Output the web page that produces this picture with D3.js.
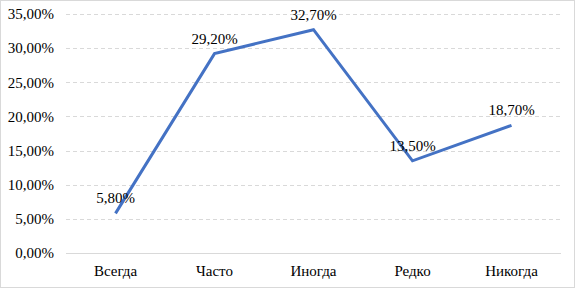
<!DOCTYPE html>
<html>
<head>
<meta charset="utf-8">
<script src="https://cdn.jsdelivr.net/npm/d3@7"></script>
</head>
<body style="margin:0">
<script>
// data
var categories = ["Всегда", "Часто", "Иногда", "Редко", "Никогда"];
var values = [5.8, 29.2, 32.7, 13.5, 18.7];
var yTicks = [0, 5, 10, 15, 20, 25, 30, 35];

var W = 575, H = 288;
var margin = {top: 14, right: 14, bottom: 35, left: 66};
var width = W - margin.left - margin.right,
    height = H - margin.top - margin.bottom;
var FONT = "'Liberation Serif', 'Tinos', serif";

var fmt = function(v) { return d3.format(".2f")(v).replace(".", ",") + "%"; };

var svg = d3.select("body").append("svg")
    .attr("width", W)
    .attr("height", H)
    .style("display", "block")
    .attr("font-family", FONT);

// outer border
svg.append("rect")
    .attr("x", 0.5).attr("y", 0.5)
    .attr("width", W - 1).attr("height", H - 1)
    .attr("fill", "#fff")
    .attr("stroke", "#d9d9d9");

var g = svg.append("g")
    .attr("transform", "translate(" + margin.left + "," + margin.top + ")");

var x = d3.scaleBand()
    .domain(categories)
    .range([0, width]);

var y = d3.scaleLinear()
    .domain([0, 35])
    .range([height, 0]);

// gridlines
g.selectAll(".grid")
  .data(yTicks)
  .enter().append("line")
    .attr("x1", 0).attr("x2", width)
    .attr("y1", function(d) { return Math.round(y(d)) + 0.5; })
    .attr("y2", function(d) { return Math.round(y(d)) + 0.5; })
    .attr("stroke", "#d9d9d9")
    .attr("stroke-width", 1)
    .attr("stroke-dasharray", function(d) { return d === 0 ? null : "4,3"; });

// y axis
var yAxis = g.append("g")
    .call(d3.axisLeft(y).tickValues(yTicks).tickFormat(fmt).tickSize(0).tickPadding(12))
    .attr("font-family", FONT).attr("font-size", 15);
yAxis.select(".domain").remove();

// x axis
var xAxis = g.append("g")
    .attr("transform", "translate(0," + height + ")")
    .call(d3.axisBottom(x).tickSize(0).tickPadding(12))
    .attr("font-family", FONT).attr("font-size", 15);
xAxis.select(".domain").remove();

// line
var line = d3.line()
    .x(function(d, i) { return x(categories[i]) + x.bandwidth() / 2; })
    .y(function(d) { return y(d); });

g.append("path")
    .datum(values)
    .attr("fill", "none")
    .attr("stroke", "#4472c4")
    .attr("stroke-width", 3)
    .attr("stroke-linejoin", "miter")
    .attr("d", line);

// data labels
g.selectAll(".lbl")
  .data(values)
  .enter().append("text")
    .attr("x", function(d, i) { return x(categories[i]) + x.bandwidth() / 2; })
    .attr("y", function(d) { return y(d) - 10; })
    .attr("text-anchor", "middle")
    .text(fmt);

svg.selectAll("text")
    .style("font-family", FONT)
    .style("font-size", "15px")
    .attr("fill", "#000");
</script>
</body>
</html>
